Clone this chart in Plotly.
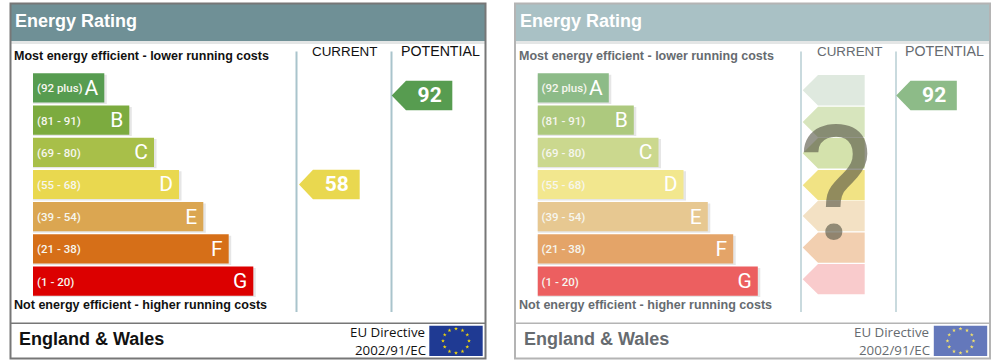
import math
import plotly.graph_objects as go

# ---- data ----
bands = ["A", "B", "C", "D", "E", "F", "G"]
score_ranges = ["(92 plus)", "(81 - 91)", "(69 - 80)", "(55 - 68)", "(39 - 54)", "(21 - 38)", "(1 - 20)"]
bar_lengths = [71.3, 96.3, 121, 146, 170.3, 195.7, 220.3]
current_rating = 58
potential_rating = 92
current_row = 3
potential_row = 0.236
ghost_rows = [0.075, 1.06, 2.03, 3.02, 3.98, 4.96, 5.94]
colors_full = ["#579c50", "#7cab3f", "#a8bf49", "#e9d84f", "#dba651", "#d66f18", "#dc0000"]
colors_faded = ["#8dbb88", "#adc97e", "#cbd88e", "#f2e78e", "#e7c891", "#e4a468", "#ec5f60"]
colors_ghost = ["#dfe9df", "#d7e5bd", "#d4e2ac", "#f1e384", "#f3e1c4", "#f2cfb0", "#f9cbcc"]
star_hours = list(range(12))

W, H = 1000, 363
PANEL_SHIFT = 504.5
BAR_LEFT = 33
PANEL_RIGHT = 485.5
Y_TOP, Y_BOTTOM = 71.8, 297.2
TEXT_NUDGE = 0.05


def px(x):
    return x / W


def py(y):
    return 1 - y / H


def arrow(x_tip, x_neck, x_end, row, half):
    xs = [x_tip, x_neck, x_end, x_end, x_neck, x_tip]
    ys = [row, row - half, row - half, row + half, row + half, row]
    return xs, ys


fig = go.Figure()
shapes = []
annotations = []


def note(x, y, text, size, color, family="Liberation Sans", bold=False, anchor="left"):
    annotations.append(dict(
        x=px(x), y=py(y), xref="paper", yref="paper", text=f"<b>{text}</b>" if bold else text,
        showarrow=False, xanchor=anchor, yanchor="middle", borderpad=0, borderwidth=0,
        font=dict(family=family, size=size, color=color)))


def panel(idx, dx, colors, header, frame, text_col, line_col, flag_col, star_col):
    xa = "x" if idx == 1 else "x2"
    ya = "y" if idx == 1 else "y2"
    rows = list(range(len(bands)))
    text_rows = [r + TEXT_NUDGE for r in rows]

    def rect(x0, y0, x1, y1, fill=None, lc=None, lw=0):
        shapes.append(dict(type="rect", xref="paper", yref="paper", x0=px(x0 + dx), x1=px(x1 + dx),
                           y0=py(y0), y1=py(y1), fillcolor=fill or "rgba(0,0,0,0)",
                           line=dict(color=lc or "rgba(0,0,0,0)", width=lw), layer="below"))

    def line(x0, y0, x1, y1, lc, lw):
        shapes.append(dict(type="line", xref="paper", yref="paper", x0=px(x0 + dx), x1=px(x1 + dx),
                           y0=py(y0), y1=py(y1), line=dict(color=lc, width=lw), layer="below"))

    rect(10.5, 3.5, 485.5, 41, fill=header)
    rect(11, 41, 485, 44, fill="#e4e6e6")
    rect(10.5, 3.5, 485.5, 358.5, lc=frame, lw=2)
    line(10.5, 323.3, 485.5, 323.3, frame, 1.5)
    line(296.5, 51.5, 296.5, 312, line_col, 2)
    line(391.5, 51.5, 391.5, 312, line_col, 2)
    rect(429.3, 325.7, 482.7, 356, fill=flag_col)

    # band shadows then bars
    fig.add_trace(go.Bar(x=[v + 2.5 for v in bar_lengths], y=rows, orientation="h", width=0.907,
                         offset=-0.41, marker=dict(color="#e6e6e6", line_width=0),
                         xaxis=xa, yaxis=ya, hoverinfo="skip"))
    fig.add_trace(go.Bar(x=bar_lengths, y=rows, orientation="h", width=0.907, offset=-0.4535,
                         marker=dict(color=colors, line_width=0), xaxis=xa, yaxis=ya))
    fig.add_trace(go.Scatter(x=[4] * 7, y=text_rows, mode="text", text=score_ranges, textposition="middle right",
                             textfont=dict(family="Roboto", size=11.5, color="#f6f6ee", weight=500),
                             xaxis=xa, yaxis=ya))
    fig.add_trace(go.Scatter(x=[v - 6 for v in bar_lengths], y=text_rows, mode="text", text=bands,
                             textposition="middle left",
                             textfont=dict(family="Roboto", size=21, color="#ffffff"),
                             xaxis=xa, yaxis=ya))

    # flag stars
    xf = "x3" if idx == 1 else "x4"
    yf = "y3" if idx == 1 else "y4"
    fig.add_trace(go.Scatter(x=[math.sin(h * math.pi / 6) for h in star_hours],
                             y=[math.cos(h * math.pi / 6) for h in star_hours],
                             mode="markers", marker=dict(symbol="star", size=3, color=star_col),
                             xaxis=xf, yaxis=yf))

    note(15 + dx, 21.5, "Energy Rating", 18, "#ffffff", bold=True)
    note(14 + dx, 55.5, "Most energy efficient - lower running costs", 12.5, text_col, bold=True)
    note(14 + dx, 304.5, "Not energy efficient - higher running costs", 12.55, text_col, bold=True)
    note(344.5 + dx, 51.5, "CURRENT", 13.4, text_col, anchor="center")
    note(440 + dx, 51.5, "POTENTIAL", 14.2, text_col, anchor="center")
    note(19 + dx, 338.5, "England & Wales", 18, text_col, bold=True)
    note(424.5 + dx, 332, "EU Directive", 13.3, text_col, family="Open Sans", anchor="right")
    note(425.5 + dx, 350, "2002/91/EC", 13.3, text_col, family="Open Sans", anchor="right")


LEFT_TEXT, RIGHT_TEXT = "#111111", "#666b70"
panel(1, 0, colors_full, "#6f9096", "#777777", LEFT_TEXT, "#a9c4cc", "#1f3a93", "#f2d60a")
panel(2, PANEL_SHIFT, colors_faded, "#a9c1c5", "#b4b4b4", RIGHT_TEXT, "#c9dade", "#6478bb", "#f5e36a")

# rating arrows, in the axis units of each panel
def rating_arrow(xa, ya, tip, neck, end, row, half, color, label=None):
    xs, ys = arrow(tip, neck, end, row, half)
    fig.add_trace(go.Scatter(x=xs, y=ys, mode="lines", fill="toself", fillcolor=color,
                             line=dict(width=0, color=color), xaxis=xa, yaxis=ya))
    if label is not None:
        fig.add_trace(go.Scatter(x=[(neck + end) / 2 + 0.5], y=[row + TEXT_NUDGE], mode="text", text=[str(label)],
                                 textposition="middle center",
                                 textfont=dict(family="Roboto", size=21, color="#ffffff", weight=700),
                                 xaxis=xa, yaxis=ya))


CUR = (299 - BAR_LEFT, 313 - BAR_LEFT, 359.7 - BAR_LEFT)
POT = (391.7 - BAR_LEFT, 406 - BAR_LEFT, 452.3 - BAR_LEFT)
rating_arrow("x", "y", *CUR, current_row, 0.455, colors_full[3], current_rating)
rating_arrow("x", "y", *POT, potential_row, 0.455, colors_full[0], potential_rating)
rating_arrow("x2", "y2", *POT, potential_row, 0.455, colors_faded[0], potential_rating)
for r, c in zip(ghost_rows, colors_ghost):
    rating_arrow("x2", "y2", 802.7 - BAR_LEFT - PANEL_SHIFT, 818 - BAR_LEFT - PANEL_SHIFT,
                 864.7 - BAR_LEFT - PANEL_SHIFT, r, 0.472, c)

note(836, 184, "?", 160, "rgba(85,85,70,0.62)", family="Roboto", anchor="center")

span = PANEL_RIGHT - BAR_LEFT
y_dom = [py(Y_BOTTOM), py(Y_TOP)]


def hidden(**kw):
    return dict(visible=False, fixedrange=True, **kw)


fig.update_layout(
    width=W, height=H, margin=dict(l=0, r=0, t=0, b=0), showlegend=False, hovermode=False,
    paper_bgcolor="#ffffff", plot_bgcolor="rgba(0,0,0,0)", barmode="overlay",
    shapes=shapes, annotations=annotations,
    xaxis=hidden(domain=[px(BAR_LEFT), px(PANEL_RIGHT)], range=[0, span], anchor="y"),
    yaxis=hidden(domain=y_dom, range=[6.5, -0.5], anchor="x"),
    xaxis2=hidden(domain=[px(BAR_LEFT + PANEL_SHIFT), px(PANEL_RIGHT + PANEL_SHIFT)], range=[0, span], anchor="y2"),
    yaxis2=hidden(domain=y_dom, range=[6.5, -0.5], anchor="x2"),
    xaxis3=hidden(domain=[px(429.3), px(482.7)], range=[-2.05, 2.05], anchor="y3"),
    yaxis3=hidden(domain=[py(356), py(325.7)], range=[-1.25, 1.25], anchor="x3"),
    xaxis4=hidden(domain=[px(429.3 + PANEL_SHIFT), px(482.7 + PANEL_SHIFT)], range=[-2.05, 2.05], anchor="y4"),
    yaxis4=hidden(domain=[py(356), py(325.7)], range=[-1.25, 1.25], anchor="x4"),
)
fig.write_html("out.html", config=dict(displayModeBar=False),
               post_script="document.body.style.margin='0';document.documentElement.style.overflow='hidden';")
